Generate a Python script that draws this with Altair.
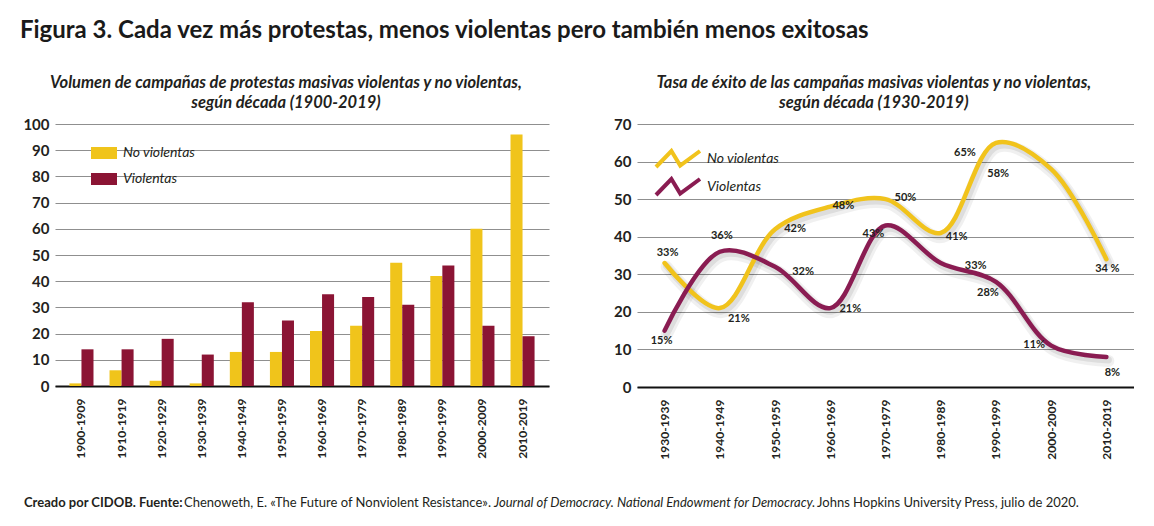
import altair as alt
import pandas as pd

# ---------------- data ----------------
decades_bar = ["1900-1909", "1910-1919", "1920-1929", "1930-1939", "1940-1949", "1950-1959",
               "1960-1969", "1970-1979", "1980-1989", "1990-1999", "2000-2009", "2010-2019"]
no_violentas_count = [1, 6, 2, 1, 13, 13, 21, 23, 47, 42, 60, 96]
violentas_count = [14, 14, 18, 12, 32, 25, 35, 34, 31, 46, 23, 19]

decades_line = ["1930-1939", "1940-1949", "1950-1959", "1960-1969", "1970-1979",
                "1980-1989", "1990-1999", "2000-2009", "2010-2019"]
no_violentas_rate = [33, 21, 42, 48, 50, 41, 65, 58, 34]
violentas_rate = [15, 36, 32, 21, 43, 33, 28, 11, 8]
no_violentas_labels = ["33%", "21%", "42%", "48%", "50%", "41%", "65%", "58%", "34 %"]
violentas_labels = ["15%", "36%", "32%", "21%", "43%", "33%", "28%", "11%", "8%"]

series = ["No violentas", "Violentas"]

title_text = "Figura 3. Cada vez más protestas, menos violentas pero también menos exitosas"
left_title = ["Volumen de campañas de protestas masivas violentas y no violentas,",
              "según década (1900-2019)"]
right_title = ["Tasa de éxito de las campañas masivas violentas y no violentas,",
               "según década (1930-2019)"]
footer_parts = [
    ("Creado por CIDOB. Fuente:", "bold", "normal"),
    ("Chenoweth, E. «The Future of Nonviolent Resistance».", "normal", "normal"),
    ("Journal of Democracy. National Endowment for Democracy.", "normal", "italic"),
    ("Johns Hopkins University Press, julio de 2020.", "normal", "normal"),
]

# ---------------- style ----------------
FONT = "Lato"
BAR_YELLOW = "#F0C41B"
BAR_MAROON = "#8B1434"
LINE_YELLOW = "#F1C31C"
LINE_VIOLET = "#8A1C52"
TEXT = "#231F20"
GRID = "#8f8f8f"

RECT_PATH = "M-1,-0.46L1,-0.46L1,0.46L-1,0.46Z"
ZIGZAG_PATH = "M-2.2,0.8L-0.66,-0.8L0.22,0.66L2.2,-0.8"

y_axis = dict(title=None, grid=True, gridColor=GRID, gridWidth=1, domain=False, ticks=False,
              labelFont=FONT, labelFontWeight="bold", labelFontSize=15, labelColor=TEXT,
              labelPadding=6)
x_axis = dict(title=None, grid=False, domain=True, domainColor="#111", domainWidth=2, ticks=False,
              labelAngle=-90, labelFont=FONT, labelFontWeight="bold", labelFontSize=12,
              labelColor=TEXT, labelPadding=12)


def panel_title(lines):
    return alt.TitleParams(
        lines[0], subtitle=lines[1], frame="bounds", anchor="middle",
        font=FONT, fontSize=16.5, fontWeight="bold", fontStyle="italic", color=TEXT,
        subtitleFont=FONT, subtitleFontSize=16.5, subtitleFontWeight="bold",
        subtitleFontStyle="italic", subtitleColor=TEXT, subtitlePadding=3.5, offset=6)


# ---------------- left: bars ----------------
bar_df = pd.DataFrame({
    "Década": decades_bar * 2,
    "Tipo": [series[0]] * len(decades_bar) + [series[1]] * len(decades_bar),
    "Campañas": no_violentas_count + violentas_count,
})

bars = alt.Chart(bar_df).mark_bar().encode(
    x=alt.X("Década:N", sort=decades_bar,
            scale=alt.Scale(paddingInner=0.4, paddingOuter=0.36),
            axis=alt.Axis(**x_axis)),
    xOffset=alt.XOffset("Tipo:N", sort=series),
    y=alt.Y("Campañas:Q", scale=alt.Scale(domain=[0, 100]),
            axis=alt.Axis(values=list(range(0, 101, 10)), **y_axis)),
    color=alt.Color("Tipo:N", sort=series,
                    scale=alt.Scale(domain=series, range=[BAR_YELLOW, BAR_MAROON]),
                    legend=alt.Legend(title=None, orient="none", legendX=36, legendY=16,
                                      symbolType=RECT_PATH, symbolSize=676, symbolStrokeWidth=0,
                                      labelFont=FONT, labelFontStyle="italic", labelFontSize=14,
                                      labelColor=TEXT, labelOffset=6, rowPadding=6)),
).properties(
    width=494, height=262,
    title=panel_title(left_title),
)

# ---------------- right: lines ----------------
line_df = pd.DataFrame({
    "Década": decades_line * 2,
    "Tipo": [series[0]] * len(decades_line) + [series[1]] * len(decades_line),
    "Tasa": no_violentas_rate + violentas_rate,
    "Etiqueta": no_violentas_labels + violentas_labels,
})

x_line = alt.X("Década:N", sort=decades_line, scale=alt.Scale(type="point", padding=0.5),
               axis=alt.Axis(**x_axis))
y_line = alt.Y("Tasa:Q", scale=alt.Scale(domain=[0, 70]),
               axis=alt.Axis(values=list(range(0, 71, 10)), **y_axis))

base = alt.Chart(line_df)

shadow1 = base.mark_line(interpolate="catmull-rom", strokeWidth=12, color="#000", opacity=0.06,
                         xOffset=2, yOffset=4, strokeCap="round").encode(
    x=x_line, y=y_line, detail="Tipo:N")
shadow2 = base.mark_line(interpolate="catmull-rom", strokeWidth=7, color="#000", opacity=0.08,
                         xOffset=2, yOffset=3, strokeCap="round").encode(
    x=x_line, y=y_line, detail="Tipo:N")

lines = base.mark_line(interpolate="catmull-rom", strokeWidth=4.5, strokeCap="round").encode(
    x=x_line, y=y_line,
    color=alt.Color("Tipo:N", sort=series,
                    scale=alt.Scale(domain=series, range=[LINE_YELLOW, LINE_VIOLET]),
                    legend=alt.Legend(title=None, orient="none", legendX=29, legendY=23,
                                      symbolType=ZIGZAG_PATH, symbolSize=400,
                                      symbolStrokeWidth=4, symbolFillColor="transparent",
                                      labelFont=FONT, labelFontStyle="italic", labelFontSize=14,
                                      labelColor=TEXT, labelOffset=17, rowPadding=-6)),
)

label_offsets = {
    series[0]: [(3, -10), (19, 11), (20, 0), (13, -1), (20, -1), (16, 4), (-31, 10), (-53, 5), (1, 10)],
    series[1]: [(-3, 10), (2, -16), (28, 5), (20, 1), (-12, 9), (35, 3), (-8, 11), (-17, -1), (6, 16)],
}

label_layers = []
for s in series:
    for i, d in enumerate(decades_line):
        dx, dy = label_offsets[s][i]
        label_layers.append(
            base.transform_filter((alt.datum.Tipo == s) & (alt.datum["Década"] == d))
            .mark_text(font=FONT, fontSize=11, fontWeight="bold", color=TEXT, dx=dx, dy=dy)
            .encode(x=x_line, y=y_line, text="Etiqueta:N")
        )

right = alt.layer(shadow1, shadow2, lines, *label_layers).properties(
    width=497, height=263,
    title=panel_title(right_title),
)

# ---------------- footer ----------------
footer_df = pd.DataFrame({
    "texto": [p[0] for p in footer_parts],
    "orden": list(range(len(footer_parts))),
})
footer_x = [-31, 129, 439, 762]
footer_layers = []
for i, (txt, w, st) in enumerate(footer_parts):
    footer_layers.append(
        alt.Chart(footer_df).transform_filter(alt.datum.orden == i)
        .mark_text(font=FONT, fontSize=13, fontWeight=w, fontStyle=st, color=TEXT,
                   align="left", baseline="alphabetic")
        .encode(x=alt.value(footer_x[i]), y=alt.value(47), text="texto:N")
    )
footer = alt.layer(*footer_layers).properties(width=1000, height=50)

top = alt.hconcat(bars, right, spacing=64).resolve_scale(color="independent") \
    .resolve_legend(color="independent")

chart = alt.vconcat(top, footer, spacing=0).properties(
    title=alt.TitleParams(title_text, anchor="start", font=FONT, fontSize=24, fontWeight="bold",
                          color="#1a1a1a", offset=32, dx=-3),
).configure(
    padding={"left": 11, "top": 10, "right": 0, "bottom": 0},
    background="white",
).configure_view(stroke=None)

chart.save("out.html", embed_options={"renderer": "svg", "actions": False})
